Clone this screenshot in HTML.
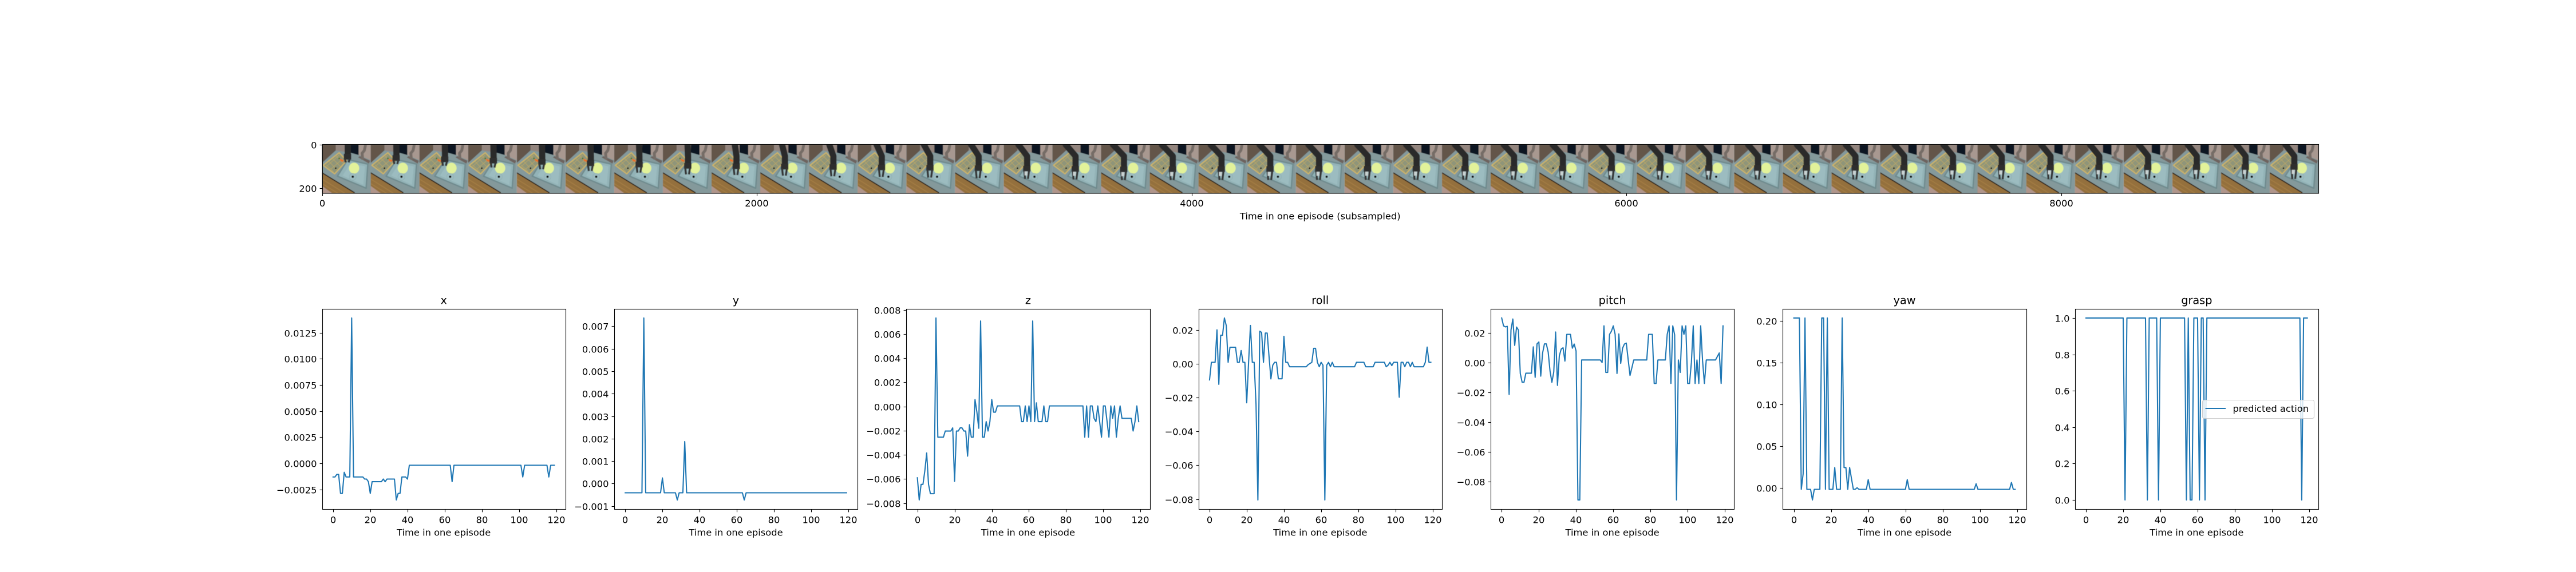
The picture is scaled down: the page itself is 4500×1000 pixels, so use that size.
<!DOCTYPE html>
<html lang="en">
<head>
<meta charset="utf-8">
<title>Predicted action over one episode</title>
<style>
  html, body { margin: 0; padding: 0; background: #fff; }
  #figure { display: block; width: 4500px; height: 1000px; font-family: "DejaVu Sans", "Liberation Sans", sans-serif; fill: #000; }
  .tick-label, .axis-label, .legend-label { font-size: 16.3px; }
  .panel-title { font-size: 19.3px; text-anchor: middle; }
  .axis-label { text-anchor: middle; }
  .spine { fill: none; stroke: #000; stroke-width: 1.1; }
  .tick { stroke: #000; stroke-width: 1.1; }
  .series { fill: none; stroke: #1f77b4; stroke-width: 2.08; stroke-linejoin: round; stroke-linecap: square; }
</style>
</head>
<body>
<svg id="figure" xmlns="http://www.w3.org/2000/svg" width="4500" height="1000" viewBox="0 0 4500 1000">
  <defs>
    <filter id="strip-blur" filterUnits="userSpaceOnUse" x="560" y="250" width="3495" height="92">
      <feGaussianBlur stdDeviation="0.5"/>
    </filter>
    <symbol id="sink-scene" viewBox="0 0 85 85">
      <rect width="85" height="85" fill="#84999b"/>
      <polygon points="24,0 50,0 50,15 24,10" fill="#93857e"/>
      <polygon points="0,0 24,0 24,10 0,32" fill="#64544a"/>
      <rect x="49" y="0" width="15" height="21" fill="#0a1220"/>
      <polygon points="64,0 85,0 85,28 64,18" fill="#a89890"/>
      <polygon points="24,10 50,14 64,18 85,27 85,85 62,85 0,50 0,32" fill="#84999b"/>
      <polygon points="63,22 66,20 84,28 82,33" fill="#6e645f"/>
      <path d="M76 0 L74 10 L70 15 L71 26" fill="none" stroke="#756c66" stroke-width="5"/>
      <polygon points="45,26 80,34 77,76 27,55" fill="#93b3b7" stroke="#6f8b8e" stroke-width="2.4" stroke-linejoin="round"/>
      <polygon points="50,32 75,38 72,70 36,54" fill="#9cbcc0"/>
      <ellipse cx="56" cy="41" rx="9" ry="9.5" fill="#e2f29a"/>
      <circle cx="53.7" cy="56" r="2" fill="#0c0c0c"/>
      <circle cx="53.7" cy="56" r="6" fill="none" stroke="#86a4a7" stroke-width="0.5"/>
      <polygon points="30,14 43,28 22,51 2,36" fill="#8f9579" stroke="#cdb468" stroke-width="2" stroke-linejoin="round"/>
      <path d="M24 19 L37 32 M18 24 L32 38 M12 29 L26 44 M7 35 L20 47 M30 18 L8 38 M36 25 L15 43" stroke="#bfa963" stroke-width="0.8" fill="none"/>
      <circle cx="24" cy="41" r="1.4" fill="#111"/>
      <polygon points="0,50 58,85 0,85" fill="#94703c"/>
      <path d="M0 60 L40 85 M0 68 L28 85" stroke="#a37d45" stroke-width="1.6" fill="none"/>
      <line x1="0" y1="49" x2="57" y2="84" stroke="#2a1f14" stroke-width="1.8"/>
      <polygon points="0,72 18,85 0,85" fill="#b0958b"/>
    </symbol>
  </defs>

  <g id="strip-panel">
    <g id="strip-frames" filter="url(#strip-blur)"></g>
    <rect class="spine" x="563.5" y="252.5" width="3487" height="85.5"/>
    <g id="strip-ticks"></g>
    <text class="axis-label" x="2306.25" y="383.5">Time in one episode (subsampled)</text>
  </g>

  <g id="panel-x">
    <text class="panel-title" x="775.15" y="531.5">x</text>
    <text class="axis-label" x="775.15" y="936.5">Time in one episode</text>
  </g>
  <g id="panel-y">
    <text class="panel-title" x="1285.5" y="531.5">y</text>
    <text class="axis-label" x="1285.5" y="936.5">Time in one episode</text>
  </g>
  <g id="panel-z">
    <text class="panel-title" x="1795.9" y="531.5">z</text>
    <text class="axis-label" x="1795.9" y="936.5">Time in one episode</text>
  </g>
  <g id="panel-roll">
    <text class="panel-title" x="2306.25" y="531.5">roll</text>
    <text class="axis-label" x="2306.25" y="936.5">Time in one episode</text>
  </g>
  <g id="panel-pitch">
    <text class="panel-title" x="2816.6" y="531.5">pitch</text>
    <text class="axis-label" x="2816.6" y="936.5">Time in one episode</text>
  </g>
  <g id="panel-yaw">
    <text class="panel-title" x="3327" y="531.5">yaw</text>
    <text class="axis-label" x="3327" y="936.5">Time in one episode</text>
  </g>
  <g id="panel-grasp">
    <text class="panel-title" x="3837.35" y="531.5">grasp</text>
    <text class="axis-label" x="3837.35" y="936.5">Time in one episode</text>
  </g>

  <g id="legend">
    <rect x="3847.5" y="699.5" width="195" height="32" rx="3" ry="3" fill="#fff" fill-opacity="0.8" stroke="#ccc" stroke-width="1.1"/>
    <line x1="3852.5" y1="714" x2="3888" y2="714" stroke="#1f77b4" stroke-width="2.08"/>
    <text class="legend-label" x="3900.5" y="720">predicted action</text>
  </g>
</svg>

<script>
// ---- chart data: one array per action dimension, one value per time step ----
const xValues = [
  -.0013,-.0013,-.00106,-.00106,-.00287,-.00287,-.00085,-.0013,-.0013,-.0013,
  .0139,-.0013,-.0013,-.0013,-.0013,-.0013,-.0013,-.0015,-.0015,-.00175,
  -.00287,-.00175,-.00175,-.00175,-.00175,-.00175,-.00175,-.0015,-.00175,-.0015,
  -.0015,-.0015,-.0015,-.0015,-.0035,-.00287,-.00287,-.0013,-.0013,-.0013,
  -.0015,-.00018,-.00018,-.00018,-.00018,-.00018,-.00018,-.00018,-.00018,-.00018,
  -.00018,-.00018,-.00018,-.00018,-.00018,-.00018,-.00018,-.00018,-.00018,-.00018,
  -.00018,-.00018,-.00018,-.00018,-.00175,-.00018,-.00018,-.00018,-.00018,-.00018,
  -.00018,-.00018,-.00018,-.00018,-.00018,-.00018,-.00018,-.00018,-.00018,-.00018,
  -.00018,-.00018,-.00018,-.00018,-.00018,-.00018,-.00018,-.00018,-.00018,-.00018,
  -.00018,-.00018,-.00018,-.00018,-.00018,-.00018,-.00018,-.00018,-.00018,-.00018,
  -.00018,-.00018,-.0013,-.00018,-.00018,-.00018,-.00018,-.00018,-.00018,-.00018,
  -.00018,-.00018,-.00018,-.00018,-.00018,-.00018,-.0013,-.00018,-.00018,-.00018
];
const yValues = [
  -.00041,-.00041,-.00041,-.00041,-.00041,-.00041,-.00041,-.00041,-.00041,-.00041,
  .00737,-.00041,-.00041,-.00041,-.00041,-.00041,-.00041,-.00041,-.00041,-.00041,
  .00025,-.00041,-.00041,-.00041,-.00041,-.00041,-.00041,-.00041,-.00073,-.00041,
  -.00041,-.00041,.00187,-.00041,-.00041,-.00041,-.00041,-.00041,-.00041,-.00041,
  -.00041,-.00041,-.00041,-.00041,-.00041,-.00041,-.00041,-.00041,-.00041,-.00041,
  -.00041,-.00041,-.00041,-.00041,-.00041,-.00041,-.00041,-.00041,-.00041,-.00041,
  -.00041,-.00041,-.00041,-.00041,-.00073,-.00041,-.00041,-.00041,-.00041,-.00041,
  -.00041,-.00041,-.00041,-.00041,-.00041,-.00041,-.00041,-.00041,-.00041,-.00041,
  -.00041,-.00041,-.00041,-.00041,-.00041,-.00041,-.00041,-.00041,-.00041,-.00041,
  -.00041,-.00041,-.00041,-.00041,-.00041,-.00041,-.00041,-.00041,-.00041,-.00041,
  -.00041,-.00041,-.00041,-.00041,-.00041,-.00041,-.00041,-.00041,-.00041,-.00041,
  -.00041,-.00041,-.00041,-.00041,-.00041,-.00041,-.00041,-.00041,-.00041,-.00041
];
const zValues = [
  -.0059,-.00774,-.00645,-.00645,-.00534,-.00385,-.00645,-.00722,-.00722,-.00722,
  .00733,-.00254,-.00254,-.00254,-.00254,-.00203,-.00203,-.00203,-.00203,-.00177,
  -.0062,-.00203,-.00203,-.00177,-.00177,-.00203,-.00203,-.00411,-.00151,-.00254,
  -.00254,.00057,-.00046,-.0018,.00708,-.00254,-.00254,-.00125,-.00203,-.00125,
  .00057,-.00047,-.00047,.00005,.00005,.00005,.00005,.00005,.00005,.00005,
  .00005,.00005,.00005,.00005,.00005,.00005,-.00125,-.00125,.00005,-.00125,
  .00005,-.00125,.00708,-.00125,.0003,-.00125,-.00125,-.00125,.00005,-.00125,
  -.00125,.00005,.00005,.00005,.00005,.00005,.00005,.00005,.00005,.00005,
  .00005,.00005,.00005,.00005,.00005,.00005,.00005,.00005,.00005,.00005,
  -.00254,.00005,-.00254,.00005,.00005,-.00098,-.00125,.00005,-.00125,-.00254,
  .00005,.00005,-.00125,-.00254,.00005,-.00098,.00005,-.00254,-.00098,.00005,
  -.00098,-.00098,-.00098,-.00098,-.00098,-.00098,-.00203,-.00125,.00005,-.00125
];
const rollValues = [
  -.0096,.0008,.0008,.0008,.02,-.0122,.0168,.0168,.027,.0225,
  .0008,.0097,.0097,.0097,.0097,.0008,.0008,.0078,.0008,.0008,
  -.0231,.0008,.0226,.0008,.0008,-.024,-.0805,.0192,.0185,.0008,
  .0181,.0181,.0042,-.009,-.0009,.0008,.0008,-.0089,-.0089,-.0089,
  .0162,.0008,.0008,-.0018,-.0018,-.0018,-.0018,-.0018,-.0018,-.0018,
  -.0018,-.0018,-.0018,-.0006,.0001,.0008,.0091,.0091,.0008,-.0018,
  .0008,-.0009,-.0805,-.0009,.0008,-.0018,.0008,-.0018,-.0018,-.0018,
  -.0018,-.0018,-.0018,-.0018,-.0018,-.0018,-.0018,-.0018,-.0018,.0008,
  .0008,.0008,.0008,.0008,-.0018,-.0018,-.0018,-.0018,-.0018,.0008,
  .0008,.0008,.0008,.0008,.0008,-.0018,-.0009,.0008,-.0011,.0008,
  .0008,.0008,-.0198,.0008,.0008,-.0018,.0008,.0008,-.0018,.0008,
  -.0018,-.0018,-.0018,-.0018,-.0018,-.0018,.0008,.0098,.0008,.0008
];
const pitchValues = [
  .0299,.0246,.0239,.0243,-.0215,.0218,.0292,.0115,.0238,.0218,
  -.0074,-.0133,-.0133,-.0072,-.0072,-.0072,-.0072,.0105,-.01,.0125,
  .0138,-.0092,.0064,.0125,.0125,.007,-.0058,-.0133,-.0064,.0205,
  -.0154,.0045,.009,.0099,.0009,.0189,.0189,.0189,.0096,.0124,
  .0077,-.0924,-.0924,.0017,.0017,.0017,.0017,.0017,.0017,.0017,
  .0017,.0017,.0017,.0017,0,.0246,-.0067,-.0067,.0189,.021,
  .0246,.0189,-.0074,.0192,-.0006,.0096,.0124,.013,.002,-.0087,
  -.0036,.0017,.0017,.0017,.0017,.0017,.0017,.0017,.0017,.0189,
  .0189,.0189,-.0141,-.0141,.0017,.0017,.0017,.0017,.0017,.0189,
  .0246,-.0141,.0246,.0186,-.0924,.0017,-.0067,.0246,.0189,.0246,
  -.0141,-.0141,0,.0246,-.0141,.0017,-.0141,.0246,.0013,-.0141,
  .0017,.0017,.0017,.0017,.0017,.0017,.0041,.0064,-.0141,.0246
];
const yawValues = [
  .2032,.2032,.2032,.2032,-.0014,.017,.2032,-.0014,-.0014,-.0014,
  -.0141,-.0014,-.0014,-.0014,-.0014,.2032,.2032,-.0014,.2032,-.0014,
  -.0014,-.0014,.0246,-.0014,-.0014,-.0014,.2032,.0246,.0246,-.0014,
  .0246,.0114,-.0014,-.0014,.0005,-.0014,-.0014,-.0014,-.0014,-.0014,
  .0102,-.0014,-.0014,-.0014,-.0014,-.0014,-.0014,-.0014,-.0014,-.0014,
  -.0014,-.0014,-.0014,-.0014,-.0014,-.0014,-.0014,-.0014,-.0014,-.0014,
  -.0014,.0102,-.0014,-.0014,-.0014,-.0014,-.0014,-.0014,-.0014,-.0014,
  -.0014,-.0014,-.0014,-.0014,-.0014,-.0014,-.0014,-.0014,-.0014,-.0014,
  -.0014,-.0014,-.0014,-.0014,-.0014,-.0014,-.0014,-.0014,-.0014,-.0014,
  -.0014,-.0014,-.0014,-.0014,-.0014,-.0014,-.0014,-.0014,.0052,-.0014,
  -.0014,-.0014,-.0014,-.0014,-.0014,-.0014,-.0014,-.0014,-.0014,-.0014,
  -.0014,-.0014,-.0014,-.0014,-.0014,-.0014,-.0014,.0068,-.0014,-.0014
];
const graspValues = [
  1,1,1,1,1,1,1,1,1,1,
  1,1,1,1,1,1,1,1,1,1,
  1,0,1,1,1,1,1,1,1,1,
  1,1,1,0,1,1,1,1,1,0,
  1,1,1,1,1,1,1,1,1,1,
  1,1,1,1,0,1,0,0,1,1,
  1,0,1,1,0,1,1,1,1,1,
  1,1,1,1,1,1,1,1,1,1,
  1,1,1,1,1,1,1,1,1,1,
  1,1,1,1,1,1,1,1,1,1,
  1,1,1,1,1,1,1,1,1,1,
  1,1,1,1,1,1,0,1,1,1
];

// ---- tick labels ----
const xTickLabels = ["0","20","40","60","80","100","120"];
const xPanelTicks = ["\u22120.0025","0.0000","0.0025","0.0050","0.0075","0.0100","0.0125"];
const yPanelTicks = ["\u22120.001","0.000","0.001","0.002","0.003","0.004","0.005","0.006","0.007"];
const zPanelTicks = ["\u22120.008","\u22120.006","\u22120.004","\u22120.002","0.000","0.002","0.004","0.006","0.008"];
const rollPanelTicks = ["\u22120.08","\u22120.06","\u22120.04","\u22120.02","0.00","0.02"];
const pitchPanelTicks = ["\u22120.08","\u22120.06","\u22120.04","\u22120.02","0.00","0.02"];
const yawPanelTicks = ["0.00","0.05","0.10","0.15","0.20"];
const graspPanelTicks = ["0.0","0.2","0.4","0.6","0.8","1.0"];
const stripXTickLabels = ["0","2000","4000","6000","8000"];
const stripYTickLabels = ["0","200"];

const SVG_NS = "http://www.w3.org/2000/svg";
function make(tag, attrs, parent) {
  const node = document.createElementNS(SVG_NS, tag);
  for (const key in attrs) node.setAttribute(key, attrs[key]);
  parent.appendChild(node);
  return node;
}
function parseLabel(label) { return Number(label.replace("\u2212", "-")); }

// ---- line panels ----
const AX_TOP = 540, AX_BOTTOM = 890, AX_WIDTH = 425.3, AX_STEP = 510.36, AX_LEFT0 = 562.5;
const X_MIN = -5.95, X_MAX = 124.95;
const panels = [
  { key: "x", group: "panel-x", values: xValues, ticks: xPanelTicks },
  { key: "y", group: "panel-y", values: yValues, ticks: yPanelTicks },
  { key: "z", group: "panel-z", values: zValues, ticks: zPanelTicks },
  { key: "roll", group: "panel-roll", values: rollValues, ticks: rollPanelTicks },
  { key: "pitch", group: "panel-pitch", values: pitchValues, ticks: pitchPanelTicks },
  { key: "yaw", group: "panel-yaw", values: yawValues, ticks: yawPanelTicks },
  { key: "grasp", group: "panel-grasp", values: graspValues, ticks: graspPanelTicks }
];

panels.forEach(function (panel, index) {
  const group = document.getElementById(panel.group);
  const left = AX_LEFT0 + index * AX_STEP;
  const lo = Math.min.apply(null, panel.values);
  const hi = Math.max.apply(null, panel.values);
  const pad = (hi - lo) * 0.05;
  const scaleX = function (v) { return left + (v - X_MIN) / (X_MAX - X_MIN) * AX_WIDTH; };
  const scaleY = function (v) { return AX_BOTTOM - (v - (lo - pad)) / ((hi + pad) - (lo - pad)) * (AX_BOTTOM - AX_TOP); };
  const boxLeft = Math.round(left) + 0.5;
  const boxRight = Math.round(left + AX_WIDTH) + 0.5;

  xTickLabels.forEach(function (label) {
    const px = Math.round(scaleX(Number(label))) + 0.5;
    const tick = make("line", { class: "tick", x1: px, x2: px, y1: 890.5, y2: 895.4 }, group);
    
    
    const text = make("text", { class: "tick-label", x: px - 0.5, y: 914.3, "text-anchor": "middle" }, group);
    text.textContent = label;
    
    
  });

  panel.ticks.forEach(function (label) {
    const py = Math.round(scaleY(parseLabel(label))) + 0.5;
    const tick = make("line", { class: "tick", x1: boxLeft - 4.9, x2: boxLeft, y1: py, y2: py }, group);
    
    
    const text = make("text", { class: "tick-label", x: boxLeft - 10, y: py + 5.8, "text-anchor": "end" }, group);
    text.textContent = label;
    
    
  });

  const points = panel.values.map(function (v, i) {
    return scaleX(i).toFixed(2) + "," + scaleY(v).toFixed(2);
  }).join(" ");
  const series = make("polyline", { class: "series", points: points }, group);
  
  

  const frame = make("rect", { class: "spine", x: boxLeft, y: 540.5, width: boxRight - boxLeft, height: 350 }, group);
  
  
});

// ---- video strip (41 sub-sampled camera frames, each 224 units wide) ----
const FRAME_COUNT = 41, FRAME_UNITS = 224, STRIP_LEFT = 562.5, STRIP_WIDTH = 3487.5, STRIP_BOTTOM = 338;
const unit = STRIP_WIDTH / (FRAME_COUNT * FRAME_UNITS);
const frameSize = FRAME_UNITS * unit;
const stripFrames = document.getElementById("strip-frames");
const stripTicks = document.getElementById("strip-ticks");

function lerp(a, b, t) { return a + (b - a) * t; }
function armPose(f) {
  if (f <= 7) { const t = f / 7; return { top: lerp(45, 43, t), bend: lerp(45, 44, t), wrist: lerp(18, 34, t), tip: lerp(31, 52, t) }; }
  if (f <= 16) { const t = (f - 7) / 9; return { top: lerp(43, 19, t), bend: lerp(44, 40, t), wrist: lerp(34, 40, t), tip: lerp(52, 62, t) }; }
  const t = (f - 16) / 24;
  return { top: lerp(19, 26, t), bend: lerp(40, 43, t), wrist: lerp(40, 36, t), tip: lerp(62, 60, t) };
}

for (let f = 0; f < FRAME_COUNT; f++) {
  const frame = make("svg", { x: (STRIP_LEFT + f * frameSize).toFixed(2), y: STRIP_BOTTOM - frameSize, width: frameSize, height: frameSize, viewBox: "0 0 85 85" }, stripFrames);
  
  
  make("use", { href: "#sink-scene", x: 0, y: 0, width: 85, height: 85 }, frame);
  const pose = armPose(f);
  const elbowY = Math.min(20, pose.wrist - 4);
  if (f < 9) {
    make("polygon", { points: "30,24 38,27 37,30 33,29", fill: "#e8702a" }, frame);
    make("circle", { cx: 30, cy: 24, r: 1.5, fill: "#4c7a3a" }, frame);
  }
  make("path", { d: "M" + pose.top + " -2 L" + pose.bend + " " + elbowY + " L" + pose.bend + " " + pose.wrist, fill: "none", stroke: "#2a2a2a", "stroke-width": 11, "stroke-linejoin": "round" }, frame);
  make("rect", { x: pose.bend - 7, y: pose.wrist - 2, width: 13, height: 10, fill: "#2e2e2e" }, frame);
  make("path", { d: "M" + (pose.bend - 5) + " " + (pose.wrist + 6) + " L" + (pose.bend - 3.5) + " " + pose.tip + " M" + (pose.bend + 3.5) + " " + (pose.wrist + 6) + " L" + (pose.bend + 1.5) + " " + pose.tip, fill: "none", stroke: "#343434", "stroke-width": 3.6 }, frame);
  if (f >= 14) {
    make("rect", { x: pose.bend - 4.5, y: pose.wrist + 8, width: 5, height: 7, fill: "#c9d2d2" }, frame);
  }
}

stripXTickLabels.forEach(function (label) {
  const px = Math.round(STRIP_LEFT + (Number(label) + 0.5) * unit) + 0.5;
  const tick = make("line", { class: "tick", x1: px, x2: px, y1: 338, y2: 342.9 }, stripTicks);
  
  
  const text = make("text", { class: "tick-label", x: px - 0.5, y: 361, "text-anchor": "middle" }, stripTicks);
  text.textContent = label;
  
  
});

stripYTickLabels.forEach(function (label) {
  const py = Math.round(STRIP_BOTTOM - frameSize + (Number(label) + 0.5) * unit) + 0.5;
  const tick = make("line", { class: "tick", x1: 558.6, x2: 563.5, y1: py, y2: py }, stripTicks);
  
  
  const text = make("text", { class: "tick-label", x: 553.5, y: py + 5.8, "text-anchor": "end" }, stripTicks);
  text.textContent = label;
  
  
});

// keep the legend above the grasp panel's line
document.getElementById("figure").appendChild(document.getElementById("legend"));
</script>
</body>
</html>
